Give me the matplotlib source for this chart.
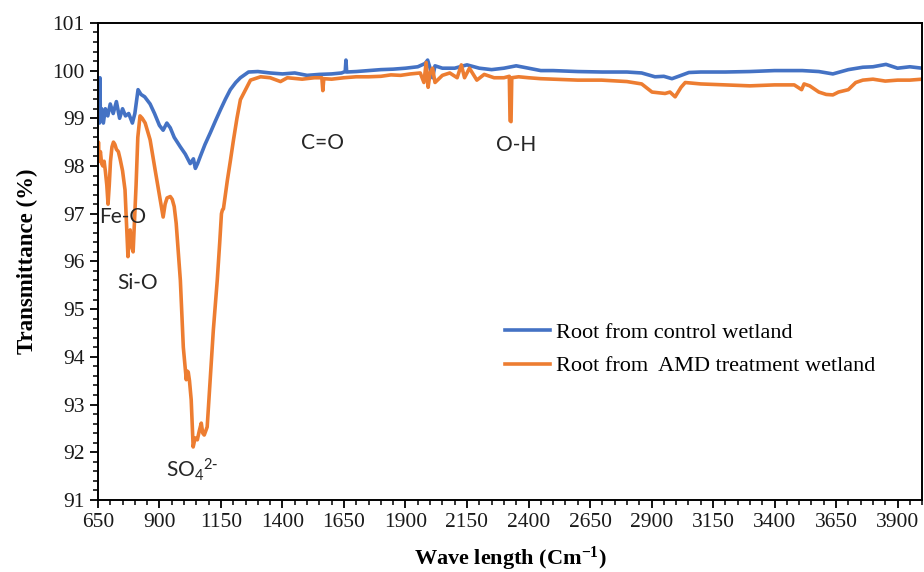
import matplotlib
matplotlib.use("Agg")
import matplotlib.pyplot as plt
from matplotlib.ticker import MultipleLocator

# Root from control wetland (blue)
wn_control = [650, 653, 656, 658, 660, 665, 672, 680, 690, 700, 712, 725, 738, 750, 762, 775,
              790, 800, 813, 825, 840, 862, 880, 900, 915, 930, 944, 960, 985, 1005, 1025, 1038,
              1046, 1055, 1066, 1085, 1107, 1128, 1148, 1168, 1188, 1210, 1229, 1262, 1300, 1350,
              1400, 1450, 1500, 1550, 1600, 1640, 1655, 1658, 1661, 1700, 1750, 1800, 1850, 1900,
              1950, 1980, 1990, 2000, 2010, 2020, 2050, 2100, 2150, 2200, 2250, 2300, 2350, 2400,
              2450, 2500, 2600, 2700, 2800, 2860, 2914, 2950, 2983, 3010, 3052, 3100, 3200, 3300,
              3400, 3513, 3580, 3637, 3700, 3759, 3800, 3853, 3900, 3950, 4000]
tr_control = [99.0, 99.3, 98.9, 99.85, 99.0, 99.2, 98.9, 99.2, 99.05, 99.3, 99.1, 99.35, 99.0, 99.2,
              99.05, 99.1, 98.9, 99.1, 99.6, 99.5, 99.45, 99.3, 99.1, 98.85, 98.75, 98.9, 98.8,
              98.6, 98.4, 98.25, 98.05, 98.15, 97.95, 98.05, 98.2, 98.45, 98.7, 98.95, 99.18, 99.4,
              99.6, 99.75, 99.85, 99.97, 99.98, 99.95, 99.93, 99.95, 99.9, 99.92, 99.93, 99.95,
              99.98, 100.22, 99.97, 99.98, 100.0, 100.02, 100.03, 100.05, 100.08, 100.15, 100.22,
              100.05, 99.85, 100.1, 100.05, 100.05, 100.12, 100.05, 100.02, 100.05, 100.1, 100.05,
              100.0, 100.0, 99.98, 99.97, 99.97, 99.95, 99.87, 99.88, 99.83, 99.88, 99.96, 99.97,
              99.97, 99.98, 100.0, 100.0, 99.98, 99.93, 100.02, 100.07, 100.08, 100.13, 100.05,
              100.08, 100.05]

# Root from AMD treatment wetland (orange)
wn_amd = [650, 652, 655, 660, 665, 670, 675, 680, 686, 691, 696, 701, 707, 713, 719, 725, 733, 740,
          750, 760, 766, 772, 776, 781, 787, 793, 799, 805, 812, 821, 830, 842, 862, 883, 903, 915,
          923, 931, 944, 952, 960, 968, 976, 985, 997, 1009, 1013, 1017, 1022, 1029, 1037, 1045,
          1054, 1062, 1070, 1076, 1082, 1094, 1106, 1119, 1135, 1145, 1152, 1156, 1160, 1168, 1176,
          1188, 1201, 1215, 1229, 1250, 1270, 1311, 1350, 1392, 1420, 1480, 1530, 1560, 1564, 1568,
          1600, 1650, 1700, 1750, 1800, 1841, 1880, 1920, 1960, 1975, 1984, 1992, 2000, 2010, 2020,
          2050, 2080, 2110, 2127, 2140, 2160, 2190, 2220, 2260, 2300, 2322, 2325, 2329, 2332, 2360,
          2400, 2450, 2500, 2600, 2697, 2800, 2860, 2902, 2955, 2975, 2996, 3020, 3037, 3100, 3200,
          3300, 3400, 3480, 3510, 3520, 3543, 3580, 3610, 3637, 3660, 3700, 3730, 3759, 3800, 3850,
          3900, 3950, 4000]
tr_amd = [98.2, 98.5, 98.1, 98.3, 98.05, 98.0, 98.1, 97.9, 97.6, 97.2, 97.6, 98.1, 98.4, 98.5, 98.45,
          98.35, 98.3, 98.15, 97.9, 97.5, 96.8, 96.1, 96.6, 96.66, 96.3, 96.2, 96.9, 97.6, 98.6,
          99.05, 99.0, 98.9, 98.55, 97.9, 97.3, 96.93, 97.2, 97.33, 97.36, 97.3, 97.15, 96.8, 96.24,
          95.6, 94.2, 93.52, 93.7, 93.68, 93.5, 93.1, 92.11, 92.3, 92.26, 92.45, 92.61, 92.4, 92.36,
          92.53, 93.5, 94.56, 95.61, 96.4, 97.0, 97.08, 97.1, 97.4, 97.7, 98.1, 98.55, 99.0, 99.39,
          99.6, 99.8, 99.87, 99.85, 99.77, 99.85, 99.82, 99.85, 99.85, 99.58, 99.83, 99.82, 99.85,
          99.87, 99.87, 99.88, 99.91, 99.9, 99.93, 99.95, 99.75, 100.17, 99.65, 99.95, 100.05, 99.75,
          99.9, 99.95, 99.85, 100.12, 99.85, 100.05, 99.8, 99.92, 99.85, 99.85, 99.88, 98.95, 98.93,
          99.85, 99.87, 99.85, 99.83, 99.82, 99.8, 99.8, 99.77, 99.72, 99.55, 99.52, 99.55, 99.45,
          99.65, 99.75, 99.72, 99.7, 99.68, 99.7, 99.7, 99.6, 99.72, 99.68, 99.55, 99.5, 99.49,
          99.55, 99.6, 99.75, 99.8, 99.82, 99.78, 99.8, 99.8, 99.82]

# band labels
band_labels = ["Fe-O", "Si-O", r"SO$_4$$^{2\text{-}}$", "C=O", "O-H"]
band_x = [655, 813, 1035, 1564, 2351]
band_y = [96.93, 95.55, 91.63, 98.48, 98.44]
band_ha = ["left", "center", "center", "center", "center"]

xticks = list(range(650, 3901, 250))

serif = "Liberation Serif"
plt.rcParams["mathtext.default"] = "regular"

fig = plt.figure(figsize=(9.24, 5.72), dpi=100)
ax = fig.add_axes([0.106, 0.126, 0.892, 0.834])

ax.plot(wn_control, tr_control, color="#4472C4", lw=2.6, label="Root from control wetland")
ax.plot(wn_amd, tr_amd, color="#ED7D31", lw=2.6, label="Root from  AMD treatment wetland")

for lab, x, y, ha in zip(band_labels, band_x, band_y, band_ha):
    ax.text(x, y, lab, ha=ha, va="center", fontsize=15, family="Lato", color="#262626")

ax.set_xlim(650, 4000)
ax.set_ylim(91, 101)
ax.set_xticks(xticks)
ax.xaxis.set_minor_locator(MultipleLocator(50))
ax.yaxis.set_major_locator(MultipleLocator(1))
ax.yaxis.set_minor_locator(MultipleLocator(0.2))
ax.tick_params(which="major", length=6, width=1.3, labelsize=15.5, direction="out",
               labelcolor="#1a1a1a")
ax.tick_params(which="minor", length=3.5, width=1.1, direction="out")
for lab in ax.get_xticklabels() + ax.get_yticklabels():
    lab.set_family(serif)
for sp in ax.spines.values():
    sp.set_linewidth(1.4)

ax.set_xlabel("Wave length (Cm$^{-1}$)", family=serif, fontsize=16, fontweight="bold", labelpad=9)
ax.set_ylabel("Transmittance (%)", family=serif, fontsize=16.5, fontweight="bold", labelpad=10)

ax.legend(loc="upper left", bbox_to_anchor=(0.47, 0.415), frameon=False,
          prop={"family": serif, "size": 16}, handlelength=2.0, handletextpad=0.3,
          labelspacing=0.6)

fig.savefig("out.png", dpi=100)
